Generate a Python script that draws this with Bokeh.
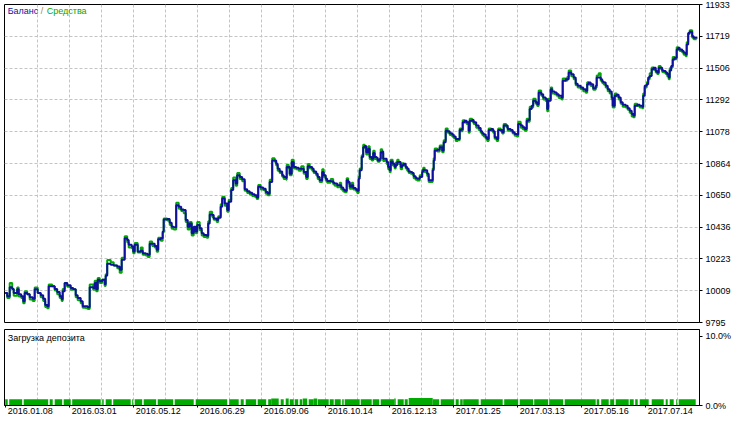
from bokeh.plotting import figure
from bokeh.layouts import column
from bokeh.models import FixedTicker, Range1d, Label, LinearAxis
from bokeh.embed import file_html
from bokeh.resources import INLINE

# ---- data -------------------------------------------------------------
trades = [
    0, 4, 9, 14, 17, 24, 27, 32, 36, 39,
    44, 49, 55, 59, 65, 71, 76, 80, 84, 87,
    94, 99, 104, 109, 113, 115, 119, 124, 131, 136,
    141, 145, 151, 155, 161, 165, 169, 176, 179, 182,
    185, 189, 194, 199, 201, 204, 211, 217, 224, 229,
    233, 239, 244, 247, 253, 256, 259, 265, 271, 275,
    281, 285, 289, 294, 299, 303, 306, 311, 315, 317,
    324, 329, 333, 337, 342, 347, 352, 357, 361, 365,
    369, 373, 377, 381, 384, 389, 393, 397, 403, 406,
    409, 414, 417, 423, 426, 431, 434, 439, 444, 447,
    452, 456, 461, 464, 469, 474, 479, 484, 489, 494,
    499, 503, 506, 511, 516, 521, 525, 529, 534, 539,
    542, 545, 549, 554, 557, 562, 563, 567, 569, 573,
    577, 582, 587, 592, 597, 602, 605, 609, 614, 617,
    622, 625, 629, 634, 637, 641, 644, 651, 656, 659,
    664, 669, 672, 676, 679, 683, 686, 689, 693, 696,
    701, 704, 707, 709, 713, 716, 719, 722, 726, 729,
    733, 736, 739, 743, 745, 749, 751, 754, 756, 759,
    763, 766, 769, 771, 775, 779, 781, 784, 787, 791,
    794, 797, 801, 804, 807, 811, 814, 817, 821, 824,
    829, 834, 836, 839, 844, 847, 852, 855, 857, 859,
    864, 869, 874, 877, 881, 885, 889, 894, 897, 901,
    905, 909, 912, 915, 919, 923, 927, 929, 934, 937,
    942, 947, 951, 954, 957, 961, 964, 967, 972, 976,
    979, 983, 986, 991, 994, 997, 1002, 1005, 1011, 1015,
    1019, 1023, 1026, 1031, 1035, 1039, 1043, 1046, 1049, 1053,
    1056, 1061, 1064, 1067, 1072, 1076, 1081, 1084, 1086, 1091,
    1094, 1099, 1103, 1107, 1113, 1115, 1121, 1124, 1127, 1132,
    1137, 1141, 1145, 1151, 1156, 1161, 1164, 1167, 1171, 1176,
    1181, 1183, 1187, 1191, 1194, 1197, 1201, 1205, 1209, 1213,
    1215, 1219, 1223, 1227, 1231, 1235, 1241, 1245, 1249, 1253,
    1256, 1259, 1264, 1269, 1274, 1276, 1279, 1283, 1286, 1289,
    1293, 1297, 1301, 1304, 1307, 1311, 1314, 1317, 1321, 1324,
    1327, 1329, 1332, 1335, 1339, 1343, 1346, 1349, 1354, 1357,
    1361, 1363, 1366, 1369, 1374, 1377, 1383,
]

balance = [
    9994, 9972, 10032, 10021, 9994, 10019, 9985, 9972, 9938, 9994,
    9985, 9965, 9954, 10019, 9994, 9978, 9954, 9912, 9905, 10039,
    10039, 10021, 10000, 9972, 9952, 10005, 10061, 10045, 10027, 10019,
    9978, 9960, 9938, 9905, 9905, 9898, 10032, 10027, 10061, 10019,
    10083, 10072, 10083, 10052, 10110, 10190, 10183, 10179, 10172, 10150,
    10217, 10361, 10350, 10317, 10306, 10272, 10317, 10272, 10277, 10261,
    10257, 10250, 10324, 10324, 10310, 10284, 10355, 10361, 10406, 10488,
    10491, 10466, 10439, 10435, 10584, 10573, 10555, 10551, 10484, 10439,
    10461, 10395, 10439, 10406, 10451, 10428, 10395, 10384, 10379, 10461,
    10521, 10517, 10495, 10484, 10499, 10573, 10628, 10595, 10551, 10606,
    10685, 10751, 10729, 10785, 10773, 10758, 10691, 10678, 10668, 10658,
    10651, 10635, 10707, 10702, 10695, 10673, 10662, 10740, 10885, 10885,
    10862, 10829, 10811, 10785, 10773, 10767, 10840, 10840, 10795, 10874,
    10840, 10836, 10829, 10829, 10807, 10773, 10845, 10840, 10829, 10811,
    10795, 10773, 10751, 10807, 10785, 10762, 10747, 10745, 10735, 10729,
    10718, 10718, 10702, 10689, 10680, 10751, 10740, 10707, 10718, 10700,
    10691, 10680, 10762, 10818, 10907, 10974, 10981, 10940, 10963, 10907,
    10896, 10934, 10907, 10902, 10885, 10896, 10940, 10945, 10896, 10896,
    10874, 10840, 10818, 10878, 10862, 10840, 10852, 10874, 10874, 10840,
    10852, 10862, 10840, 10829, 10811, 10807, 10800, 10778, 10767, 10762,
    10773, 10807, 10822, 10818, 10795, 10751, 10751, 10818, 10885, 10952,
    10956, 10974, 10952, 11007, 11085, 11081, 11067, 11059, 11045, 11029,
    11029, 11089, 11092, 11141, 11152, 11141, 11085, 11152, 11156, 11141,
    11119, 11103, 11081, 11067, 11059, 11041, 11029, 11089, 11096, 11081,
    11041, 11029, 11089, 11089, 11074, 11119, 11119, 11096, 11089, 11074,
    11063, 11059, 11130, 11119, 11108, 11096, 11152, 11156, 11230, 11252,
    11286, 11275, 11263, 11341, 11330, 11308, 11297, 11230, 11286, 11363,
    11348, 11341, 11330, 11319, 11308, 11420, 11430, 11430, 11475, 11464,
    11442, 11401, 11386, 11375, 11363, 11353, 11397, 11408, 11397, 11370,
    11386, 11442, 11442, 11430, 11415, 11408, 11386, 11363, 11348, 11308,
    11252, 11319, 11326, 11308, 11275, 11259, 11252, 11236, 11219, 11196,
    11186, 11252, 11259, 11252, 11246, 11319, 11386, 11397, 11442, 11453,
    11497, 11508, 11486, 11475, 11508, 11508, 11490, 11486, 11475, 11464,
    11442, 11490, 11520, 11564, 11575, 11631, 11642, 11631, 11620, 11609,
    11597, 11664, 11742, 11749, 11720, 11709, 11704,
]

equity = [
    9994, 9960, 10060, 10021, 9975, 10030, 9970, 9960, 9925, 10005,
    9985, 9950, 9940, 10030, 9994, 9965, 9940, 9900, 9890, 10050,
    10039, 10010, 9985, 9960, 9940, 10020, 10061, 10035, 10015, 10019,
    9965, 9945, 9925, 9895, 9890, 9885, 10050, 10015, 10075, 10005,
    10095, 10060, 10083, 10040, 10120, 10215, 10200, 10179, 10160, 10130,
    10230, 10375, 10335, 10300, 10295, 10260, 10330, 10265, 10300, 10250,
    10245, 10235, 10340, 10310, 10300, 10270, 10365, 10345, 10400, 10495,
    10480, 10450, 10425, 10420, 10600, 10560, 10545, 10530, 10470, 10420,
    10470, 10380, 10425, 10395, 10470, 10415, 10380, 10370, 10365, 10475,
    10540, 10505, 10485, 10470, 10510, 10590, 10640, 10580, 10540, 10620,
    10700, 10770, 10715, 10800, 10760, 10745, 10680, 10665, 10655, 10645,
    10640, 10625, 10720, 10690, 10685, 10660, 10650, 10755, 10900, 10875,
    10850, 10815, 10800, 10775, 10760, 10755, 10855, 10830, 10785, 10890,
    10830, 10825, 10815, 10845, 10795, 10760, 10860, 10830, 10815, 10800,
    10785, 10760, 10740, 10825, 10775, 10750, 10735, 10760, 10725, 10715,
    10705, 10735, 10690, 10675, 10670, 10765, 10730, 10695, 10735, 10690,
    10680, 10665, 10775, 10830, 10920, 10990, 10970, 10925, 10980, 10895,
    10885, 10950, 10895, 10890, 10875, 10885, 10960, 10935, 10880, 10885,
    10860, 10825, 10805, 10890, 10850, 10830, 10870, 10890, 10860, 10825,
    10865, 10850, 10830, 10815, 10800, 10795, 10790, 10765, 10755, 10750,
    10785, 10820, 10835, 10805, 10780, 10740, 10740, 10830, 10900, 10965,
    10945, 10985, 10940, 11020, 11100, 11070, 11055, 11045, 11035, 11015,
    11020, 11100, 11080, 11155, 11140, 11130, 11070, 11165, 11145, 11130,
    11105, 11090, 11070, 11055, 11045, 11030, 11015, 11100, 11085, 11070,
    11030, 11015, 11100, 11080, 11065, 11130, 11110, 11085, 11080, 11065,
    11050, 11045, 11145, 11105, 11095, 11085, 11165, 11145, 11245, 11240,
    11300, 11265, 11250, 11355, 11320, 11295, 11285, 11215, 11300, 11375,
    11335, 11330, 11320, 11305, 11295, 11435, 11420, 11445, 11490, 11450,
    11430, 11390, 11375, 11365, 11350, 11340, 11410, 11395, 11385, 11360,
    11375, 11455, 11470, 11420, 11405, 11395, 11375, 11350, 11335, 11295,
    11240, 11335, 11315, 11295, 11265, 11245, 11240, 11225, 11205, 11180,
    11175, 11265, 11250, 11240, 11235, 11335, 11375, 11410, 11430, 11470,
    11510, 11495, 11475, 11465, 11520, 11500, 11480, 11475, 11465, 11450,
    11430, 11505, 11510, 11580, 11565, 11645, 11630, 11620, 11610, 11595,
    11585, 11680, 11735, 11760, 11710, 11700, 11700,
]

balance_ticks = [9795, 10009, 10223, 10436, 10650, 10864, 11078, 11292, 11506, 11719, 11933]

date_ticks = [1, 129, 257, 385, 513, 641, 769, 897, 1025, 1153, 1281]
date_labels = ["2016.01.08", "2016.03.01", "2016.05.12", "2016.06.29", "2016.09.06",
               "2016.10.14", "2016.12.13", "2017.01.25", "2017.03.13", "2017.05.16",
               "2017.07.14"]
grid_ticks = [65, 129, 193, 257, 321, 385, 449, 513, 577, 641, 705, 769, 833,
              897, 961, 1025, 1089, 1153, 1217, 1281, 1345]

load_left = [0, 8, 37, 89, 99, 117, 134, 194, 201, 216, 254, 259, 277, 305, 339,
             381, 448, 471, 481, 505, 526, 532, 551, 561, 569, 579, 589, 595, 607,
             617, 625, 649, 659, 674, 679, 711, 735, 751, 778, 785, 799, 807, 855,
             871, 901, 910, 916, 951, 998, 1029, 1058, 1088, 1119, 1183, 1192, 1210,
             1221, 1249, 1260, 1269, 1293, 1321, 1329, 1342, 1347]
load_right = [5, 34, 86, 95, 114, 131, 191, 197, 213, 251, 256, 274, 302, 336, 377,
              444, 467, 477, 502, 522, 532, 547, 557, 567, 577, 586, 594, 604, 617,
              624, 647, 657, 671, 677, 709, 733, 748, 778, 781, 797, 805, 855, 868,
              898, 907, 915, 947, 995, 1026, 1056, 1086, 1116, 1181, 1188, 1207, 1218,
              1247, 1257, 1265, 1287, 1317, 1325, 1337, 1344, 1381]
load_pct = [0.9, 0.9, 0.9, 0.9, 0.9, 0.9, 0.9, 0.9, 0.9, 0.9, 0.9, 0.9, 0.9, 0.9, 0.9,
            0.9, 0.9, 0.9, 0.9, 0.9, 0.9, 1.0, 0.9, 1.0, 0.9, 0.9, 0.9, 1.0, 0.9,
            1.0, 0.9, 0.9, 0.9, 0.9, 0.9, 0.9, 0.9, 0.9, 1.0, 0.9, 0.9, 1.1, 0.9,
            0.9, 0.9, 0.9, 0.9, 0.9, 0.9, 0.9, 0.9, 0.9, 0.9, 0.9, 0.9, 0.9,
            0.9, 0.9, 0.9, 0.9, 0.9, 0.9, 0.9, 0.9, 0.9]
load_ticks = [0, 10]
load_labels = ["0.0%", "10.0%"]

# ---- style ------------------------------------------------------------
BLUE = "#10109E"
GREEN = "#00A800"
BAR_GREEN = "#00AA00"
GRID = "#C4C4C4"
FONT = "Liberation Sans"
FS = "9px"
LABEL_SHIFT = 49   # date labels start just right of their tick (in x units)


def style_common(p):
    p.outline_line_color = "black"
    p.outline_line_width = 1
    p.outline_line_alpha = 1.0
    p.background_fill_color = "white"
    p.border_fill_color = "white"
    p.yaxis.axis_line_color = "black"
    p.yaxis.major_tick_out = 3
    p.yaxis.major_tick_in = 0
    p.yaxis.minor_tick_line_color = None
    p.yaxis.major_label_standoff = 3
    p.yaxis.major_label_text_font = FONT
    p.yaxis.major_label_text_font_size = FS
    p.yaxis.major_label_text_color = "black"
    p.xgrid.ticker = FixedTicker(ticks=grid_ticks)
    p.xgrid.grid_line_color = GRID
    p.xgrid.grid_line_dash = "3 2"


x_rng = Range1d(-1.4, 1388.6)

# upper panel
p1 = figure(width=736, height=328, x_range=x_rng, y_range=Range1d(9795, 11933),
            y_axis_location="right", output_backend="svg", toolbar_location=None,
            min_border_left=4, min_border_top=4, min_border_bottom=6,
            min_border_right=37)
style_common(p1)
p1.xaxis.visible = False
p1.yaxis.ticker = FixedTicker(ticks=balance_ticks)
p1.ygrid.ticker = FixedTicker(ticks=balance_ticks)
p1.ygrid.grid_line_color = GRID
p1.ygrid.grid_line_dash = "3 2"

p1.step(trades, equity, mode="after", line_color=GREEN, line_width=2)
p1.step(trades, balance, mode="after", line_color=BLUE, line_width=2)

title_y = 11887
for txt, col, off in (("Баланс", BLUE, 0), ("/", "#B08800", 33), ("Средства", GREEN, 39)):
    p1.add_layout(Label(x=5, y=title_y, x_offset=off, text=txt, text_color=col,
                        text_font=FONT, text_font_size=FS, text_baseline="middle"))

# lower panel
p2 = figure(width=736, height=88, x_range=x_rng, y_range=Range1d(0, 11.0),
            y_axis_location="right", output_backend="svg", toolbar_location=None,
            min_border_left=4, min_border_top=1, min_border_bottom=10,
            min_border_right=37)
style_common(p2)
p2.ygrid.visible = False
p2.yaxis.ticker = FixedTicker(ticks=load_ticks)
p2.yaxis.major_label_overrides = dict(zip(load_ticks, load_labels))

# axis 1: tick marks only at the date positions
p2.xaxis.ticker = FixedTicker(ticks=date_ticks)
p2.xaxis.major_label_overrides = {t: "" for t in date_ticks}
p2.xaxis.axis_line_color = "black"
p2.xaxis.major_tick_out = 2
p2.xaxis.major_tick_in = 0
p2.xaxis.minor_tick_line_color = None
p2.xaxis.major_label_standoff = 0

# axis 2: the date texts, starting just right of each tick
label_pos = [t + LABEL_SHIFT for t in date_ticks]
ax2 = LinearAxis(ticker=FixedTicker(ticks=label_pos),
                 major_label_overrides=dict(zip(label_pos, date_labels)),
                 axis_line_color=None, major_tick_line_color=None,
                 minor_tick_line_color=None, major_tick_out=0, major_tick_in=0,
                 major_label_standoff=0, major_label_text_font=FONT,
                 major_label_text_font_size=FS, major_label_text_color="black")
p2.add_layout(ax2, "below")

p2.quad(left=load_left, right=load_right, bottom=0, top=load_pct,
        fill_color=BAR_GREEN, line_color=None)
p2.add_layout(Label(x=5, y=9.7, text="Загрузка депозита", text_color="black",
                    text_font=FONT, text_font_size=FS, text_baseline="middle"))

layout = column(p1, p2, spacing=0)
open("out.html", "w").write(file_html(layout, INLINE))
